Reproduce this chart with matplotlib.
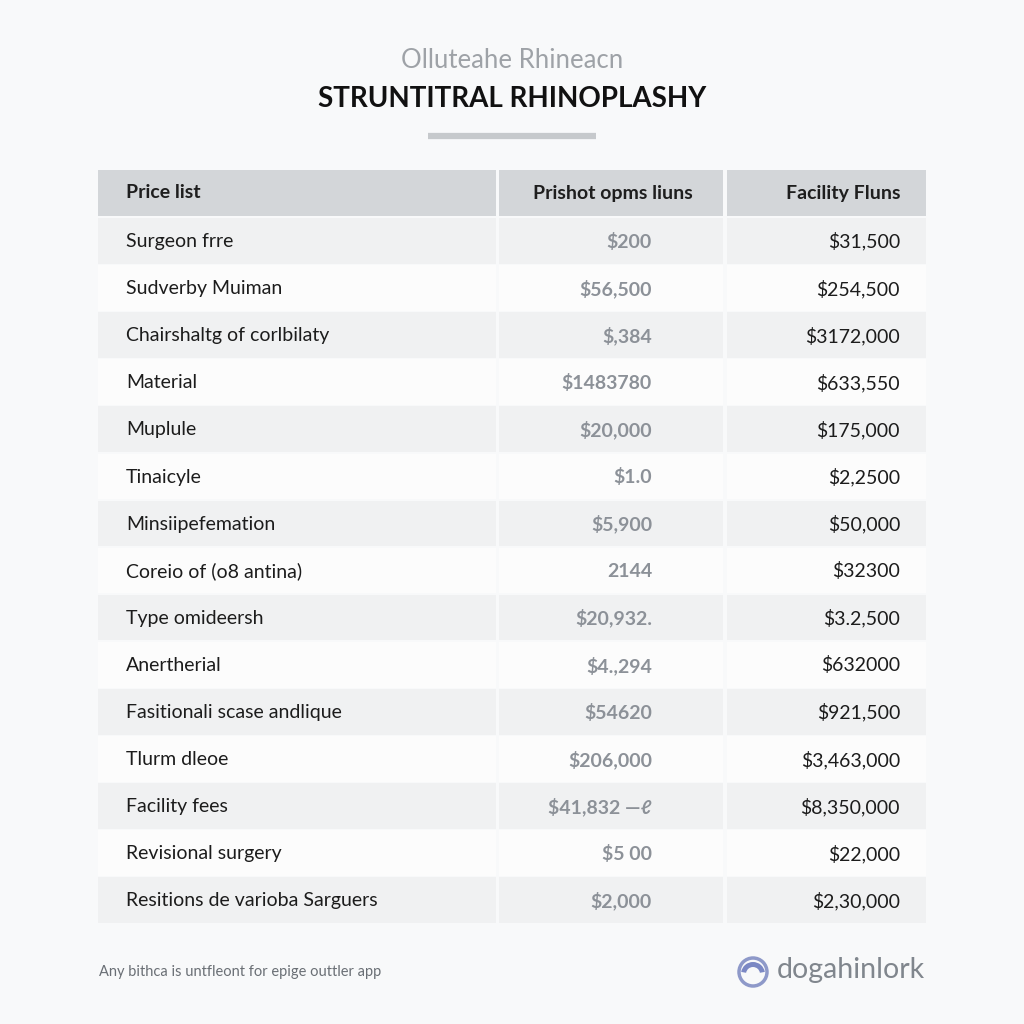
import matplotlib.pyplot as plt
from matplotlib.patches import Rectangle, Circle, Wedge

plt.rcParams['font.family'] = ['Lato', 'DejaVu Sans']

subtitle = "Olluteahe Rhineacn"
title = "STRUNTITRAL RHINOPLASHY"
headers = ["Price list", "Prishot opms liuns", "Facility Fluns"]

items = ["Surgeon frre", "Sudverby Muiman", "Chairshaltg of corlbilaty", "Material",
         "Muplule", "Tinaicyle", "Minsiipefemation", "Coreio of (o8 antina)",
         "Type omideersh", "Anertherial", "Fasitionali scase andlique", "Tlurm dleoe",
         "Facility fees", "Revisional surgery", "Resitions de varioba Sarguers"]
prices = ["$200", "$56,500", "$,384", "$1483780", "$20,000", "$1.0", "$5,900", "2144",
          "$20,932.", "$4.,294", "$54620", "$206,000", "$41,832 —ℓ", "$5 00", "$2,000"]
facility = ["$31,500", "$254,500", "$3172,000", "$633,550", "$175,000", "$2,2500",
            "$50,000", "$32300", "$3.2,500", "$632000", "$921,500", "$3,463,000",
            "$8,350,000", "$22,000", "$2,30,000"]
footer = "Any bithca is untfleont for epige outtler app"
brand = "dogahinlork"

fig = plt.figure(figsize=(10.24, 10.24), dpi=100)
fig.patch.set_facecolor("#f8f9fa")
ax = fig.add_axes([0, 0, 1, 1])
ax.set_xlim(0, 1024)
ax.set_ylim(1024, 0)
ax.axis("off")

# heading
ax.text(512, 60, subtitle, ha="center", va="center", fontsize=18.5, color="#9ea2a7")
ax.text(512, 99, title, ha="center", va="center", fontsize=20, fontweight="bold", color="#111111")
ax.plot([428, 596], [136, 136], color="#c6c9cc", lw=4.5, solid_capstyle="butt")

# table geometry
cols = [(98, 496), (499, 723), (727, 926)]
top = 170
head_h = 46
row_h = 47.1

for x0, x1 in cols:
    ax.add_patch(Rectangle((x0, top), x1 - x0, head_h, color="#d3d6d9", lw=0))
ax.text(126, top + head_h / 2, headers[0], ha="left", va="center", fontsize=14, fontweight="bold", color="#1e1e1e")
ax.text(693, top + head_h / 2, headers[1], ha="right", va="center", fontsize=14, fontweight="bold", color="#1e1e1e")
ax.text(900, top + head_h / 2, headers[2], ha="right", va="center", fontsize=14, fontweight="bold", color="#1e1e1e")

for i, (name, p, f) in enumerate(zip(items, prices, facility)):
    y0 = top + head_h + 2 + i * row_h
    fill = "#f0f1f2" if i % 2 == 0 else "#fcfcfc"
    for x0, x1 in cols:
        ax.add_patch(Rectangle((x0, y0), x1 - x0, row_h - 1.5, color=fill, lw=0))
    yc = y0 + row_h / 2
    ax.text(126, yc, name, ha="left", va="center", fontsize=14, color="#1c1c1c")
    ax.text(652, yc, p, ha="right", va="center", fontsize=14, fontweight="bold", color="#8c9198")
    ax.text(900, yc, f, ha="right", va="center", fontsize=14, color="#1c1c1c")

# footer
ax.text(99, 972, footer, ha="left", va="center", fontsize=10.5, color="#6a6f75")
ax.add_patch(Circle((753, 972), 14, fill=False, ec="#8e99c9", lw=2.5))
ax.add_patch(Wedge((753, 974), 12, 190, 350, width=5, color="#7b88c4", lw=0))
ax.text(777, 970, brand, ha="left", va="center", fontsize=20.5, color="#80868d")

fig.savefig("out.png", dpi=100, facecolor=fig.get_facecolor())
